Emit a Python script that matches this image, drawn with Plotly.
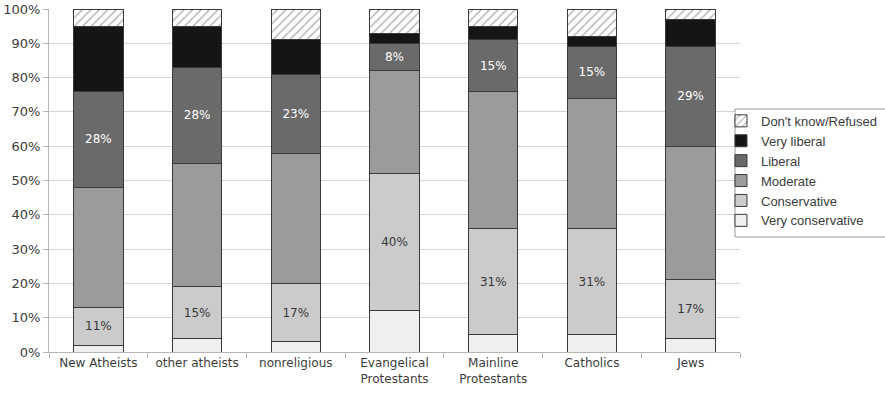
import plotly.graph_objects as go

groups = ["New Atheists", "other atheists", "nonreligious", "Evangelical<br>Protestants",
          "Mainline<br>Protestants", "Catholics", "Jews"]

very_conservative = [2, 4, 3, 12, 5, 5, 4]
conservative = [11, 15, 17, 40, 31, 31, 17]
moderate = [35, 36, 38, 30, 40, 38, 39]
liberal = [28, 28, 23, 8, 15, 15, 29]
very_liberal = [19, 12, 10, 3, 4, 3, 8]
dont_know = [5, 5, 9, 7, 5, 8, 3]

y_ticks = list(range(0, 101, 10))
y_tick_labels = [f"{t}%" for t in y_ticks]

outline = dict(color="#3a3a3a", width=1)
font_family = "DejaVu Sans, Verdana, sans-serif"
legend_family = "Liberation Sans, Arial, sans-serif"

fig = go.Figure()

series = [
    ("Very conservative", very_conservative, "#efefef", None, None),
    ("Conservative", conservative, "#cbcbcb", True, "#383838"),
    ("Moderate", moderate, "#9b9b9b", None, None),
    ("Liberal", liberal, "#6a6a6a", True, "#ffffff"),
    ("Very liberal", very_liberal, "#151515", None, None),
]

for name, vals, color, labelled, tcolor in series:
    kw = {}
    if labelled:
        kw = dict(
            text=[f"{v}%" for v in vals],
            textposition="inside",
            insidetextanchor="middle",
            textangle=0,
            constraintext="none",
            textfont=dict(color=tcolor, size=12, family=font_family),
        )
    fig.add_trace(go.Bar(
        name=name, x=groups, y=vals,
        marker=dict(color=color, line=outline),
        hoverinfo="skip", **kw,
    ))

fig.add_trace(go.Bar(
    name="Don't know/Refused", x=groups, y=dont_know,
    marker=dict(color="#ffffff", line=outline,
                pattern=dict(shape="/", fgcolor="#6e6e6e", bgcolor="#ffffff",
                             size=6, solidity=0.25)),
    hoverinfo="skip",
))

# Legend frame drawn as a shape so the box can run off the right edge
fig.add_shape(
    type="rect", xref="paper", yref="paper",
    x0=0.9928, x1=1.215, y0=0.3353, y1=0.7085,
    line=dict(color="#9a9a9a", width=1), fillcolor="#ffffff", layer="above",
)

fig.update_layout(
    barmode="stack",
    bargap=0.5,
    width=885, height=398,
    margin=dict(l=49, r=145, t=9, b=46, autoexpand=False),
    paper_bgcolor="#ffffff",
    plot_bgcolor="#ffffff",
    font=dict(family=font_family, size=12, color="#3c3c3c"),
    showlegend=True,
    legend=dict(
        x=0.9725, xanchor="left", y=0.7175, yanchor="top",
        traceorder="reversed",
        borderwidth=0,
        bgcolor="rgba(0,0,0,0)",
        font=dict(size=13, color="#3c3c3c", family=legend_family),
        itemclick=False, itemdoubleclick=False,
        itemwidth=30,
        tracegroupgap=0,
    ),
)

fig.update_xaxes(
    showline=True, linecolor="#b5b5b5", linewidth=1,
    tickson="boundaries", ticks="outside", ticklen=5, tickcolor="#b5b5b5",
    showgrid=False,
    tickfont=dict(size=12, color="#3c3c3c"),
)
fig.update_yaxes(
    range=[0, 100], tickmode="array", tickvals=y_ticks, ticktext=y_tick_labels,
    showline=True, linecolor="#b5b5b5", linewidth=1,
    ticks="outside", ticklen=5, tickcolor="#b5b5b5",
    showgrid=True, gridcolor="#d4d4d4", gridwidth=1,
    zeroline=False,
    tickfont=dict(size=13, color="#3c3c3c"),
)

fig.write_html("out.html")
